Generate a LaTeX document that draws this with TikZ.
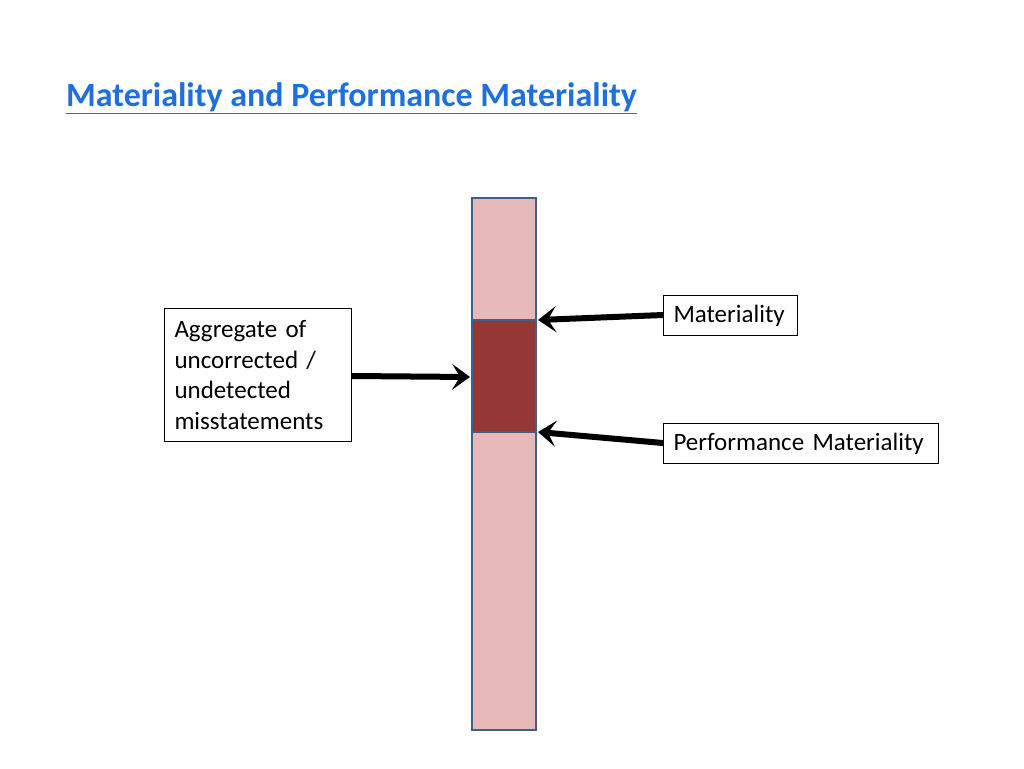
\documentclass[tikz,border=0pt]{standalone}
\usepackage{fontspec}
\setmainfont{Carlito}
\definecolor{barlight}{HTML}{E6B9B8}
\definecolor{bardark}{HTML}{953735}
\definecolor{barline}{HTML}{3E5F8A}
\definecolor{titleblue}{HTML}{1F6FE0}
\usetikzlibrary{arrows.meta}
\tikzset{
  lbl/.style={draw=black, fill=white, line width=1pt, inner xsep=10pt, inner ysep=5pt, font=\fontsize{25}{30.5}\selectfont, anchor=north west},
  bigarrow/.style={line width=6pt, -{Stealth[length=18pt,width=26pt,inset=8pt]}},
  seg/.style={draw=barline, line width=2pt}
}
\begin{document}
\begin{tikzpicture}[x=1pt,y=-1pt]
	\useasboundingbox (0,0) rectangle (1024,768);
	% title
	\node[anchor=west, inner sep=0pt, text=titleblue, font=\fontsize{34}{40}\selectfont\bfseries] (title) at (66,98) {\underline{Materiality and Performance Materiality}};
	% bar
	\filldraw[seg, fill=barlight] (472,198) rectangle (536,320);
	\filldraw[seg, fill=bardark] (472,320) rectangle (536,432);
	\filldraw[seg, fill=barlight] (472,432) rectangle (536,730);
	\coordinate (mtop) at (538,320);
	\coordinate (mbot) at (538,432);
	\coordinate (mmid) at (470,377);
	% labels
	\node[lbl, text width=167pt, align=left, minimum height=133pt, inner ysep=2pt] (agg) at (164,308) {Aggregate of\\uncorrected /\\undetected\\misstatements};
	\node[lbl, text width=114pt, minimum height=40pt] (mat) at (663,295) {Materiality};
	\node[lbl, text width=255pt, minimum height=40pt] (perf) at (663,423) {Performance Materiality};
	% arrows
	\draw[bigarrow] (agg.east |- 0,376) -- (mmid);
	\draw[bigarrow] (mat.west |- 0,315) -- (mtop);
	\draw[bigarrow] (perf.west |- 0,443) -- (mbot);
\end{tikzpicture}
\end{document}
